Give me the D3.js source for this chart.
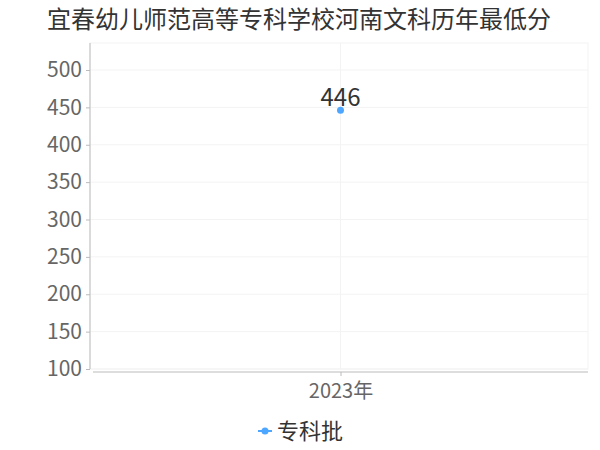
<!doctype html>
<html lang="zh">
<head>
    <meta charset="utf-8">
    <title>宜春幼儿师范高等专科学校河南文科历年最低分</title>
    <script src="https://cdnjs.cloudflare.com/ajax/libs/d3/7.8.5/d3.min.js"></script>
    <style>
        body { margin: 0; background: #fff; font-family: 'Noto Sans CJK SC', 'Noto Sans', sans-serif; }
    </style>
</head>
<body>
    <svg id="chart" width="600" height="450"></svg>
    <script>
        // data
        const years = ["2023年"];
        const scores = [446];
        const seriesName = "专科批";
        const yTicks = [100, 150, 200, 250, 300, 350, 400, 450, 500];

        const svg = d3.select("#chart");
        const plotLeft = 90, plotRight = 588, plotTop = 43, plotBottom = 369;

        const x = d3.scalePoint().domain(years).range([93, plotRight]).padding(0.5);
        const y = d3.scaleLinear().domain([100, 500]).range([plotBottom, 70]);

        // title
        svg.append("text")
            .attr("x", 47).attr("y", 28)
            .attr("font-size", 24).attr("fill", "#333")
            .text("宜春幼儿师范高等专科学校河南文科历年最低分");

        // plot frame + grid
        svg.append("rect")
            .attr("x", plotLeft).attr("y", plotTop)
            .attr("width", plotRight - plotLeft).attr("height", plotBottom - plotTop)
            .attr("fill", "none").attr("stroke", "#f3f3f3");

        svg.selectAll("line.hgrid")
            .data(yTicks)
            .enter().append("line")
            .attr("class", "hgrid")
            .attr("x1", plotLeft).attr("x2", plotRight)
            .attr("y1", d => y(d)).attr("y2", d => y(d))
            .attr("stroke", "#f3f3f3");

        svg.selectAll("line.vgrid")
            .data(years)
            .enter().append("line")
            .attr("class", "vgrid")
            .attr("x1", d => x(d)).attr("x2", d => x(d))
            .attr("y1", plotTop).attr("y2", plotBottom)
            .attr("stroke", "#f3f3f3");

        // y axis
        const yAxis = svg.append("g")
            .attr("transform", `translate(${plotLeft},0)`)
            .call(d3.axisLeft(y).tickValues(yTicks).tickSize(4).tickPadding(4));
        yAxis.select(".domain").attr("d", `M0,${plotTop}V${plotBottom}`).attr("stroke", "#bbb");
        yAxis.selectAll(".tick line").attr("stroke", "#bbb");
        yAxis.selectAll(".tick text")
            .attr("font-size", 21).attr("fill", "#666")
            .attr("font-family", "'Noto Sans CJK SC', sans-serif");

        // x axis
        const xAxis = svg.append("g")
            .attr("transform", `translate(0,${plotBottom + 3})`)
            .call(d3.axisBottom(x).tickSize(4).tickPadding(8));
        xAxis.select(".domain").attr("d", `M93,0H${plotRight}`).attr("stroke", "#bbb");
        xAxis.selectAll(".tick line").attr("stroke", "#bbb");
        xAxis.selectAll(".tick text")
            .attr("font-size", 20).attr("fill", "#666")
            .attr("font-family", "'Noto Sans CJK SC', sans-serif");

        // series
        const pts = years.map((d, i) => ({ year: d, value: scores[i] }));
        svg.append("path")
            .datum(pts)
            .attr("fill", "none").attr("stroke", "#4da6ff").attr("stroke-width", 2)
            .attr("d", d3.line().x(d => x(d.year)).y(d => y(d.value)));

        svg.selectAll("circle.pt")
            .data(pts)
            .enter().append("circle")
            .attr("class", "pt")
            .attr("cx", d => x(d.year)).attr("cy", d => y(d.value))
            .attr("r", 3.5).attr("fill", "#4da6ff");

        svg.selectAll("text.lbl")
            .data(pts)
            .enter().append("text")
            .attr("class", "lbl")
            .attr("x", d => x(d.year)).attr("y", d => y(d.value) - 4)
            .attr("text-anchor", "middle")
            .attr("font-size", 24).attr("fill", "#333")
            .text(d => d.value);

        // legend
        const lg = svg.append("g").attr("transform", "translate(265,431)");
        lg.append("line").attr("x1", -7).attr("x2", 7).attr("stroke", "#4da6ff").attr("stroke-width", 2);
        lg.append("circle").attr("r", 3.5).attr("fill", "#4da6ff");
        lg.append("text")
            .attr("x", 12).attr("y", 8)
            .attr("font-size", 22).attr("fill", "#333")
            .text(seriesName);
    </script>
</body>
</html>
